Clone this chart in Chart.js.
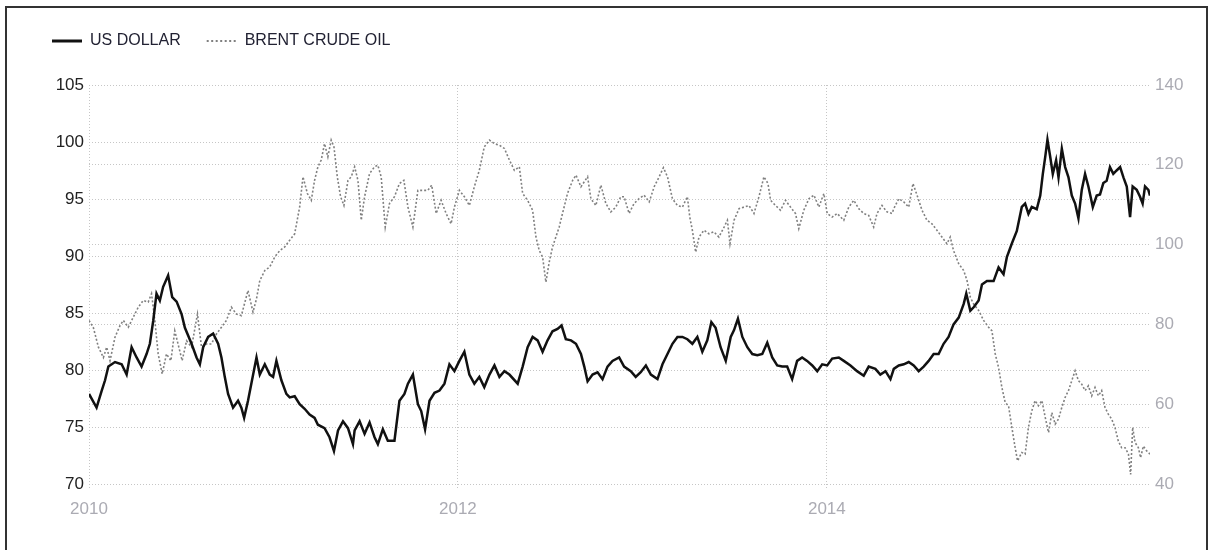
<!DOCTYPE html>
<html>
<head>
<meta charset="utf-8">
<script src="https://cdn.jsdelivr.net/npm/chart.js@4.4.1/dist/chart.umd.min.js"></script>
<style>
  html, body { margin: 0; padding: 0; background: #fff; }
  #wrap { position: relative; width: 1212px; height: 550px; overflow: hidden; }
  #c { position: absolute; left: 0; top: 0; }
  #frame { position: absolute; left: 5px; top: 6px; width: 1199px; height: 600px; border: 2px solid #333; pointer-events: none; }
</style>
</head>
<body>
<div id="wrap">
  <canvas id="c" width="1212" height="550"></canvas>
  <div id="frame"></div>
</div>
<script>
// ---- data (x in decimal years) ----
const seriesNames = ['US DOLLAR', 'BRENT CRUDE OIL'];
const xTickLabels = [2010, 2012, 2014];
const leftTicks = [70, 75, 80, 85, 90, 95, 100, 105];
const rightTicks = [40, 60, 80, 100, 120, 140];

const usdX = [2010.000,2010.041,2010.069,2010.087,2010.105,2010.141,2010.177,2010.204,2010.231,2010.258,2010.285,2010.312,2010.330,2010.348,2010.366,2010.384,2010.402,2010.429,2010.451,2010.475,2010.502,2010.520,2010.556,2010.583,2010.601,2010.619,2010.646,2010.673,2010.700,2010.718,2010.736,2010.754,2010.781,2010.808,2010.826,2010.841,2010.862,2010.880,2010.908,2010.926,2010.953,2010.980,2010.998,2011.016,2011.043,2011.070,2011.088,2011.115,2011.142,2011.169,2011.196,2011.223,2011.241,2011.277,2011.304,2011.328,2011.350,2011.377,2011.404,2011.431,
2011.440,2011.467,2011.494,2011.521,2011.548,2011.566,2011.593,2011.620,2011.656,2011.683,2011.710,2011.729,2011.756,2011.783,2011.801,2011.822,2011.846,2011.873,2011.900,2011.927,2011.954,2011.981,2012.008,2012.035,2012.062,2012.089,2012.116,2012.143,2012.171,2012.198,2012.225,2012.252,2012.279,2012.324,2012.351,2012.378,2012.405,2012.432,2012.459,2012.486,2012.513,2012.540,2012.562,2012.585,2012.613,2012.640,2012.667,2012.685,2012.703,2012.730,2012.757,2012.784,2012.811,2012.838,2012.874,
2012.901,2012.937,2012.964,2012.991,2013.019,2013.046,2013.082,2013.109,2013.136,2013.163,2013.190,2013.217,2013.244,2013.271,2013.298,2013.325,2013.352,2013.374,2013.397,2013.424,2013.452,2013.479,2013.497,2013.518,2013.542,2013.569,2013.596,2013.623,2013.650,2013.677,2013.704,2013.731,2013.758,2013.785,2013.812,2013.839,2013.866,2013.893,2013.921,2013.948,2013.975,2014.002,2014.029,2014.065,2014.092,2014.128,2014.164,2014.200,2014.227,2014.263,2014.290,2014.318,2014.345,
2014.363,2014.390,2014.417,2014.444,2014.471,2014.498,2014.525,2014.552,2014.579,2014.606,2014.633,2014.660,2014.687,2014.715,2014.742,2014.756,2014.778,2014.796,2014.823,2014.841,2014.868,2014.904,2014.931,2014.958,2014.976,2015.003,2015.030,2015.057,2015.075,2015.093,2015.111,2015.138,2015.157,2015.171,2015.184,2015.196,2015.211,2015.225,2015.243,2015.256,2015.274,2015.292,2015.310,2015.328,2015.346,2015.364,2015.382,2015.400,2015.418,2015.442,2015.463,2015.481,2015.499,2015.517,2015.535,2015.553,2015.571,2015.590,2015.608,2015.626,2015.644,2015.658,2015.680,2015.698,2015.712,2015.725,2015.743,2015.752];
const usdY = [77.9,76.7,78.2,79.1,80.3,80.7,80.5,79.6,82.0,81.1,80.3,81.4,82.3,84.3,86.7,86.1,87.3,88.3,86.4,86.0,84.9,83.7,82.3,81.1,80.5,82.0,82.9,83.2,82.3,81.1,79.4,77.9,76.7,77.3,76.7,75.8,77.3,78.8,81.1,79.6,80.5,79.6,79.4,80.8,79.1,77.9,77.6,77.7,77.0,76.6,76.1,75.8,75.2,74.9,74.1,72.9,74.7,75.5,74.9,73.5,
74.7,75.5,74.4,75.4,74.1,73.5,74.8,73.8,73.8,77.3,77.9,78.8,79.6,77.0,76.4,74.8,77.3,78.0,78.2,78.8,80.5,79.9,80.8,81.6,79.6,78.8,79.4,78.5,79.6,80.4,79.4,79.9,79.6,78.8,80.3,82.0,82.9,82.6,81.6,82.6,83.4,83.6,83.9,82.7,82.6,82.3,81.4,80.3,79.0,79.6,79.8,79.2,80.3,80.8,81.1,
80.3,79.9,79.4,79.8,80.4,79.6,79.2,80.5,81.4,82.3,82.9,82.9,82.7,82.3,82.9,81.6,82.6,84.2,83.7,82.0,80.8,82.9,83.5,84.5,82.9,82.0,81.4,81.3,81.4,82.4,81.1,80.4,80.3,80.3,79.2,80.8,81.1,80.8,80.4,79.9,80.5,80.4,81.0,81.1,80.8,80.4,79.9,79.5,80.3,80.1,79.6,79.9,79.2,
80.1,80.4,80.5,80.7,80.4,79.9,80.3,80.8,81.4,81.4,82.3,82.9,84.0,84.6,85.8,86.7,85.2,85.5,86.1,87.5,87.8,87.8,89.0,88.4,89.9,91.1,92.2,94.3,94.6,93.7,94.3,94.1,95.3,97.2,98.7,100.2,98.7,97.2,98.4,96.9,99.4,97.8,96.9,95.3,94.6,93.3,95.8,97.2,96.1,94.3,95.3,95.4,96.4,96.6,97.8,97.2,97.5,97.8,96.9,96.1,93.4,96.1,95.8,95.2,94.6,96.1,95.8,95.3];

const oilX = [2010.000,2010.023,2010.051,2010.078,2010.096,2010.114,2010.141,2010.168,2010.186,2010.213,2010.240,2010.267,2010.294,2010.321,2010.339,2010.357,2010.375,2010.397,2010.420,2010.444,2010.465,2010.487,2010.505,2010.529,2010.556,2010.588,2010.610,2010.637,2010.664,2010.691,2010.718,2010.745,2010.772,2010.799,2010.826,2010.862,2010.889,2010.908,2010.926,2010.953,2010.980,2011.007,2011.034,2011.061,2011.088,2011.115,2011.142,2011.160,2011.184,2011.205,2011.223,2011.241,2011.259,2011.277,2011.295,2011.313,2011.328,2011.346,2011.364,2011.382,2011.404,2011.422,
2011.440,2011.458,2011.476,2011.494,2011.521,2011.548,2011.566,2011.584,2011.606,2011.629,2011.656,2011.683,2011.707,2011.729,2011.756,2011.783,2011.810,2011.837,2011.858,2011.882,2011.909,2011.936,2011.963,2011.981,2012.008,2012.035,2012.062,2012.089,2012.116,2012.143,2012.171,2012.198,2012.225,2012.252,2012.279,2012.306,2012.333,2012.351,2012.378,2012.405,2012.423,2012.441,2012.459,2012.477,2012.495,2012.513,2012.531,2012.549,2012.567,2012.594,2012.622,2012.640,2012.667,2012.703,2012.721,2012.748,2012.775,2012.802,2012.829,2012.856,2012.883,
2012.901,2012.928,2012.955,2012.982,2013.009,2013.037,2013.064,2013.091,2013.114,2013.136,2013.163,2013.190,2013.217,2013.244,2013.257,2013.271,2013.289,2013.307,2013.334,2013.361,2013.388,2013.415,2013.443,2013.461,2013.475,2013.497,2013.524,2013.551,2013.578,2013.605,2013.632,2013.659,2013.681,2013.695,2013.722,2013.749,2013.776,2013.803,2013.830,2013.848,2013.875,2013.903,2013.930,2013.957,2013.984,2014.002,2014.029,2014.056,2014.092,2014.119,2014.146,2014.173,2014.200,2014.227,2014.254,2014.272,2014.299,2014.326,2014.354,
2014.363,2014.390,2014.417,2014.444,2014.467,2014.489,2014.516,2014.543,2014.570,2014.597,2014.624,2014.651,2014.669,2014.687,2014.715,2014.742,2014.760,2014.778,2014.796,2014.823,2014.850,2014.877,2014.895,2014.913,2014.931,2014.949,2014.967,2014.985,2015.003,2015.021,2015.034,2015.057,2015.075,2015.093,2015.111,2015.129,2015.147,2015.166,2015.184,2015.202,2015.220,2015.238,2015.256,2015.274,2015.292,2015.310,2015.328,2015.346,2015.364,2015.382,2015.400,2015.418,2015.436,2015.454,2015.472,2015.490,2015.508,2015.526,2015.544,2015.562,2015.580,2015.598,2015.617,2015.635,2015.647,2015.658,2015.671,2015.689,2015.701,2015.716,2015.734,2015.752];
const oilY = [81.0,79.3,74.3,71.7,74.3,70.9,76.8,79.7,81.0,79.3,81.8,84.3,86.0,85.6,87.7,81.0,72.6,67.6,72.6,70.9,78.4,74.3,70.9,75.9,74.3,82.6,74.3,75.1,75.1,77.6,79.3,81.0,84.3,82.6,82.2,88.5,83.1,86.4,91.0,93.5,94.4,96.9,98.5,99.4,101.1,102.7,109.4,117.0,112.8,111.1,116.1,119.5,121.2,125.3,122.0,126.2,124.5,117.0,112.0,109.8,116.1,117.0,
119.5,116.1,106.1,112.0,117.8,119.5,119.9,117.0,104.4,110.3,112.0,115.3,116.1,109.4,104.4,113.6,113.6,113.6,114.9,107.8,111.1,107.8,105.2,109.4,113.6,112.0,109.8,114.5,118.6,124.5,126.2,125.3,124.9,124.1,121.2,118.6,119.5,112.8,111.1,108.6,101.9,98.5,96.9,90.6,95.6,99.4,101.9,104.4,107.8,112.8,116.1,117.4,114.5,117.0,111.5,109.8,114.9,110.3,108.2,109.4,112.0,
112.0,107.8,110.3,111.5,112.4,110.7,114.5,117.0,119.3,117.0,111.5,109.8,109.4,112.0,106.9,103.6,98.1,101.9,103.6,102.7,103.2,101.9,104.4,106.1,100.2,106.1,109.0,109.4,109.8,107.8,112.0,117.0,115.3,111.1,109.8,108.6,111.1,109.4,107.8,104.0,108.6,111.5,112.4,109.4,112.8,107.8,106.9,107.8,106.1,109.4,111.1,109.0,107.8,107.3,104.4,107.8,109.8,108.2,107.8,
109.0,111.5,110.7,109.4,115.3,112.4,108.6,106.1,105.2,103.6,101.9,100.2,101.9,98.5,95.2,93.5,91.0,86.8,85.1,83.5,81.0,79.3,78.4,72.6,69.2,64.2,60.4,59.6,54.2,49.1,45.8,47.9,47.5,54.2,58.3,60.9,59.6,60.9,56.7,52.9,57.9,55.0,56.3,59.2,61.7,63.4,65.9,68.4,65.9,65.0,63.4,64.6,62.1,64.2,62.1,63.4,59.2,57.5,56.3,54.2,50.8,49.1,49.1,47.5,42.4,54.2,50.4,49.1,46.6,49.5,48.3,47.5];

const usdData = usdX.map((x, i) => ({ x: x, y: usdY[i] }));
const oilData = oilX.map((x, i) => ({ x: x, y: oilY[i] }));

const FONT = "'Liberation Sans', Arial, sans-serif";
const GRID = '#c6c6c6';

new Chart(document.getElementById('c'), {
  type: 'line',
  data: {
    datasets: [
      { label: seriesNames[0], data: usdData, yAxisID: 'yL', borderColor: '#111', backgroundColor: '#111', borderWidth: 2.5, pointRadius: 0, tension: 0, order: 1 },
      { label: seriesNames[1], data: oilData, yAxisID: 'yR', borderColor: '#808080', backgroundColor: '#808080', borderWidth: 1.6, borderDash: [2, 2], pointRadius: 0, tension: 0, order: 2 }
    ]
  },
  options: {
    responsive: false,
    animation: false,
    devicePixelRatio: 1,
    layout: { padding: { left: 26, right: 0, top: 7, bottom: 0 } },
    plugins: {
      legend: {
        display: true, position: 'top', align: 'start',
        labels: {
          usePointStyle: true, pointStyle: 'line', pointStyleWidth: 30, padding: 26, color: '#222233',
          font: { family: FONT, size: 16 },
          generateLabels: chart => {
            const items = Chart.defaults.plugins.legend.labels.generateLabels(chart);
            return items.map((it, i) => {
              const ds = chart.data.datasets[i];
              it.strokeStyle = ds.borderColor;
              it.lineDash = i === 1 ? [2, 2.5] : [];
              it.lineWidth = i === 1 ? 2 : 3;
              it.pointStyle = 'line';
              return it;
            });
          }
        }
      },
      title: { display: true, text: '', weight: 500, padding: { top: 7, bottom: 7 }, font: { size: 10 } },
      tooltip: { enabled: false }
    },
    scales: {
      x: {
        type: 'linear', min: 2010, max: 2015.752,
        afterBuildTicks: s => { s.ticks = xTickLabels.map(v => ({ value: v })); },
        afterFit: s => { s.height = 66; },
        ticks: { color: '#ababb3', font: { family: FONT, size: 17 }, padding: 10, maxRotation: 0, callback: v => String(v) },
        grid: { color: GRID, lineWidth: 1, drawTicks: true, tickLength: 5, tickColor: GRID, tickBorderDash: [1, 2] },
        border: { display: false, dash: [1, 2] }
      },
      yL: {
        type: 'linear', position: 'left', min: 70, max: 105,
        afterBuildTicks: s => { s.ticks = leftTicks.map(v => ({ value: v })); },
        afterFit: s => { s.width = 63; },
        ticks: { color: '#222', font: { family: FONT, size: 17 }, padding: 5 },
        grid: { color: GRID, lineWidth: 1, drawTicks: false },
        border: { display: false, dash: [1, 2] }
      },
      yR: {
        type: 'linear', position: 'right', min: 40, max: 140,
        afterBuildTicks: s => { s.ticks = rightTicks.map(v => ({ value: v })); },
        afterFit: s => { s.width = 62; },
        ticks: { color: '#ababb3', font: { family: FONT, size: 17 }, padding: 5 },
        grid: { color: GRID, lineWidth: 1, drawTicks: false },
        border: { display: false, dash: [1, 2] }
      }
    }
  }
});
</script>
</body>
</html>
